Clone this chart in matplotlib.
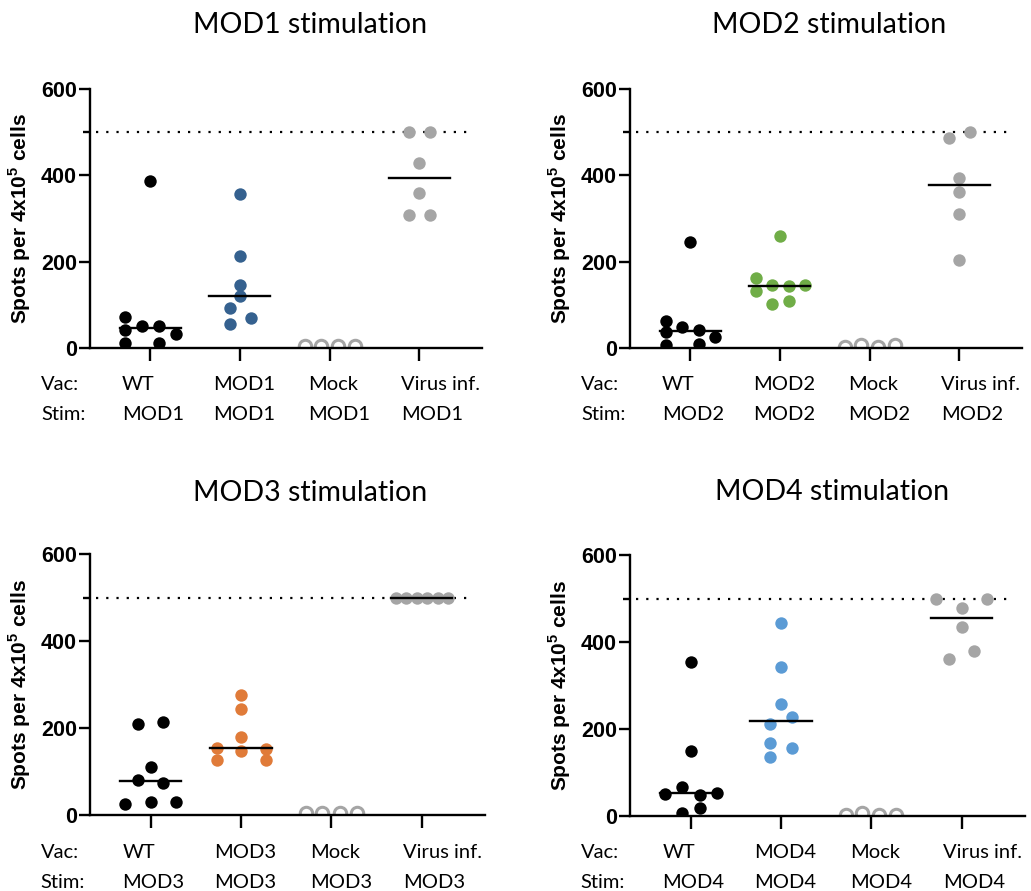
import matplotlib
matplotlib.use("Agg")
import matplotlib.pyplot as plt
import numpy as np

plt.rcParams['mathtext.fontset'] = 'custom'
plt.rcParams['mathtext.rm'] = 'Liberation Sans:bold'
plt.rcParams['mathtext.bf'] = 'Liberation Sans:bold'

# categories / labels
vac_labels = ['WT', 'MOD{}', 'Mock', 'Virus inf.']
panel_names = ['MOD1', 'MOD2', 'MOD3', 'MOD4']
panel_colors = ['#35618F', '#70AD47', '#E07B39', '#5B9BD5']
gray = '#A5A5A5'

# values (spots per 4x10^5 cells) + horizontal jitter
mod1_wt = [387, 72, 42, 50, 50, 32, 12, 12]
mod1_wt_dx = [0, -0.28, -0.28, -0.085, 0.10, 0.29, -0.28, 0.10]
mod1_vac = [356, 213, 145, 121, 93, 70, 55]
mod1_vac_dx = [0, 0, 0, 0, -0.11, 0.12, -0.11]
mod1_mock = [4, 4, 4, 4]
mod1_mock_dx = [-0.27, -0.09, 0.09, 0.28]
mod1_virus = [500, 500, 429, 360, 309, 309]
mod1_virus_dx = [-0.11, 0.12, 0, 0, -0.11, 0.12]

mod2_wt = [246, 63, 49, 41, 36, 26, 6, 9]
mod2_wt_dx = [0, -0.27, -0.09, 0.10, -0.27, 0.28, -0.27, 0.10]
mod2_vac = [259, 163, 145, 144, 145, 131, 103, 109]
mod2_vac_dx = [0, -0.27, -0.085, 0.10, 0.28, -0.27, -0.085, 0.10]
mod2_mock = [2, 8, 2, 6]
mod2_mock_dx = [-0.27, -0.09, 0.10, 0.28]
mod2_virus = [486, 500, 393, 362, 310, 204]
mod2_virus_dx = [-0.11, 0.12, 0, 0, 0, 0]

mod3_wt = [209, 213, 110, 81, 74, 25, 30, 30]
mod3_wt_dx = [-0.14, 0.14, 0, -0.14, 0.14, -0.28, 0, 0.28]
mod3_vac = [277, 244, 180, 154, 148, 152, 126, 126]
mod3_vac_dx = [0, 0, 0, -0.27, 0, 0.28, -0.27, 0.28]
mod3_mock = [4, 4, 4, 4]
mod3_mock_dx = [-0.275, -0.10, 0.10, 0.28]
mod3_virus = [500, 500, 500, 500, 500, 500]
mod3_virus_dx = [-0.28, -0.17, -0.056, 0.056, 0.175, 0.286]

mod4_wt = [353, 150, 67, 51, 49, 53, 18, 8]
mod4_wt_dx = [0, 0, -0.09, -0.28, 0.10, 0.29, 0.10, -0.09]
mod4_vac = [444, 343, 258, 227, 212, 168, 156, 135]
mod4_vac_dx = [0, 0, 0, 0.12, -0.12, -0.12, 0.12, -0.12]
mod4_mock = [2, 6, 2, 2]
mod4_mock_dx = [-0.285, -0.10, 0.085, 0.27]
mod4_virus = [500, 500, 478, 434, 380, 362]
mod4_virus_dx = [-0.28, 0.28, 0, 0, 0.14, -0.14]

panels = [
    [(mod1_wt, mod1_wt_dx), (mod1_vac, mod1_vac_dx), (mod1_mock, mod1_mock_dx), (mod1_virus, mod1_virus_dx)],
    [(mod2_wt, mod2_wt_dx), (mod2_vac, mod2_vac_dx), (mod2_mock, mod2_mock_dx), (mod2_virus, mod2_virus_dx)],
    [(mod3_wt, mod3_wt_dx), (mod3_vac, mod3_vac_dx), (mod3_mock, mod3_mock_dx), (mod3_virus, mod3_virus_dx)],
    [(mod4_wt, mod4_wt_dx), (mod4_vac, mod4_vac_dx), (mod4_mock, mod4_mock_dx), (mod4_virus, mod4_virus_dx)],
]
detection_limit = 500

W, H = 1031, 891
fig = plt.figure(figsize=(W / 100, H / 100), dpi=100)

# axes boxes in pixels: left, right, top(600), bottom(0)
boxes = [(90, 482, 89, 348), (630, 1022, 89, 348), (90, 485, 554, 815), (630, 1025, 555, 816)]
title_pos = [(310, 25), (829, 25), (310, 493), (832, 492)]

txt_font = 'Lato'
col_left = [-0.312, 0.702, 1.761, 2.798]

for i, (name, col, groups) in enumerate(zip(panel_names, panel_colors, panels)):
    l, r, t, b = boxes[i]
    ax = fig.add_axes([l / W, 1 - b / H, (r - l) / W, (b - t) / H])
    ax.set_xlim(-0.67, 3.70)
    ax.set_ylim(0, 600)

    face = ['black', col, 'white', gray]
    edge = ['black', col, gray, gray]
    for k, (vals, dx) in enumerate(groups):
        xs = k + np.array(dx)
        ax.scatter(xs, vals, s=80, c=face[k], edgecolors=edge[k],
                   linewidths=2.2 if k == 2 else 0, zorder=3, clip_on=True)
        if k != 2:
            med = np.median(vals)
            ax.plot([k - 0.34, k + 0.34], [med, med], color='black', lw=1.7, zorder=4)

    ax.axhline(detection_limit, xmin=0.015, xmax=0.97, color='black', lw=1.6,
               linestyle=(0, (1, 3.6)), zorder=1)

    for s in ['top', 'right']:
        ax.spines[s].set_visible(False)
    for s in ['left', 'bottom']:
        ax.spines[s].set_linewidth(1.7)
        ax.spines[s].set_zorder(5)

    ax.set_yticks([0, 200, 400, 600])
    ax.set_yticks([500], minor=True)
    ax.set_xticks([0, 1, 2, 3])
    ax.set_xticklabels([])
    ax.tick_params(axis='y', which='major', length=8, width=1.7, pad=1.5, labelsize=15.5)
    ax.tick_params(axis='y', which='minor', length=5, width=1.7)
    ax.tick_params(axis='x', length=9, width=1.7)
    for lab in ax.get_yticklabels():
        lab.set_fontfamily('Liberation Sans')
        lab.set_fontweight('bold')

    ax.set_ylabel(r'Spots per 4x10$^{\mathbf{5}}$ cells', fontsize=15,
                  fontweight='bold', family='Liberation Sans')
    ax.yaxis.set_label_coords(-0.145, 0.5)

    # category labels under the axis
    for row, (head, offset) in enumerate([('Vac:', -37), ('Stim:', -67)]):
        ax.annotate(head, xy=(-1.215, 0), xycoords=('data', 'axes fraction'),
                    xytext=(0, offset * 0.72), textcoords='offset points',
                    ha='left', va='center', fontsize=14.5, family=txt_font,
                    annotation_clip=False)
        for k in range(4):
            lab = vac_labels[k].format(i + 1) if row == 0 else name
            ax.annotate(lab, xy=(col_left[k], 0), xycoords=('data', 'axes fraction'),
                        xytext=(0, offset * 0.72), textcoords='offset points',
                        ha='left', va='center', fontsize=14.5, family=txt_font,
                        annotation_clip=False)

    tx, ty = title_pos[i]
    fig.text(tx / W, 1 - ty / H, f'{name} stimulation', ha='center', va='center',
             fontsize=20.5, family=txt_font)

fig.savefig('out.png', dpi=100)
